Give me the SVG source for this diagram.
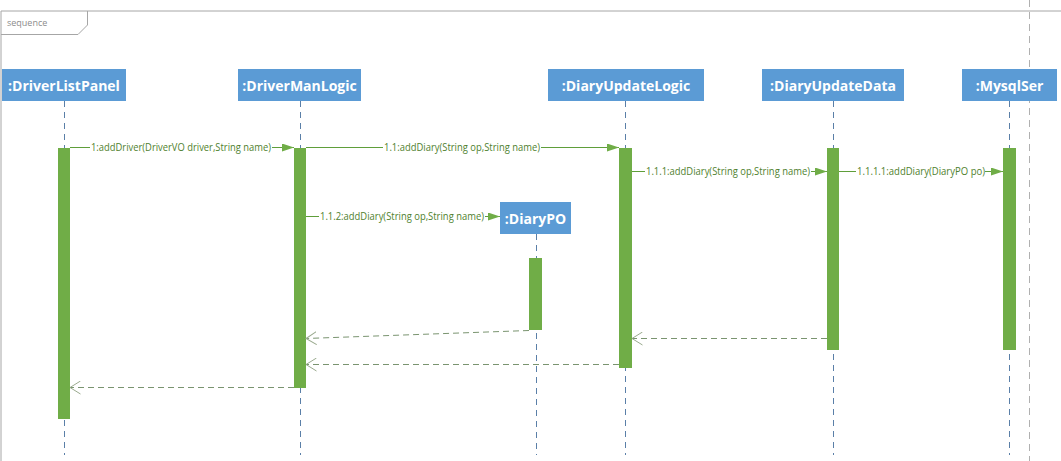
<svg xmlns="http://www.w3.org/2000/svg" width="1061" height="461" viewBox="0 0 1061 461">
<style>
.frame{fill:none;stroke:#a6a6a6;stroke-width:1}
.tabtxt{font-family:"Open Sans","Liberation Sans",sans-serif;font-size:9px;fill:#8c8c8c}
.box{fill:#5b9bd5}
.name{font-family:"Open Sans","Liberation Sans",sans-serif;font-size:14px;font-weight:bold;fill:#ffffff;text-anchor:middle}
.life{stroke:#5a7fa8;stroke-width:1;stroke-dasharray:6,5;fill:none}
.act{fill:#70ad47}
.msg{stroke:#5f9e3a;stroke-width:1;fill:none}
.ret{stroke:#7a9470;stroke-width:1;stroke-dasharray:6,4;fill:none}
.lbl{font-family:"Open Sans","Liberation Sans",sans-serif;font-size:10px;fill:#4f7f2e}
</style>
<defs>
<marker id="fill" viewBox="0 0 12 8" refX="12" refY="4" markerWidth="12" markerHeight="8" markerUnits="userSpaceOnUse" orient="auto">
<path d="M0,0 L12,4 L0,8 Z" fill="#70ad47"/>
</marker>
<marker id="open" viewBox="0 0 11 14" refX="10.5" refY="7" markerWidth="11" markerHeight="14" markerUnits="userSpaceOnUse" orient="auto">
<path d="M0,0.5 L10.5,7 L0,13.5" fill="none" stroke="#9aaa8e" stroke-width="1"/>
</marker>
</defs>
<g id="frame">
<path class="frame" d="M1,461 V11 H1061"/>
<path class="frame" d="M1,34.5 H78 L87.5,25 V11"/>
<text class="tabtxt" x="7" y="26">sequence</text>
<line x1="1029.5" y1="0" x2="1029.5" y2="461" stroke="#b0b0b0" stroke-dasharray="7,5"/>
</g>
<g id="DriverListPanel">
<line class="life" x1="64.5" y1="101" x2="64.5" y2="455"/>
<rect class="box" x="2" y="69" width="124" height="32"/>
<text class="name" x="64" y="90.5">:DriverListPanel</text>
<rect class="act" x="58" y="148" width="12" height="271"/>
</g>
<g id="DriverManLogic">
<line class="life" x1="300.5" y1="101" x2="300.5" y2="455"/>
<rect class="box" x="238" y="69" width="123" height="32"/>
<text class="name" x="299.5" y="90.5">:DriverManLogic</text>
<rect class="act" x="294" y="148" width="12" height="240"/>
</g>
<g id="DiaryUpdateLogic">
<line class="life" x1="625.5" y1="101" x2="625.5" y2="455"/>
<rect class="box" x="548" y="69" width="156" height="32"/>
<text class="name" x="626" y="90.5">:DiaryUpdateLogic</text>
<rect class="act" x="619" y="148" width="13" height="220"/>
</g>
<g id="DiaryUpdateData">
<line class="life" x1="833.5" y1="101" x2="833.5" y2="455"/>
<rect class="box" x="762" y="69" width="142" height="32"/>
<text class="name" x="833" y="90.5">:DiaryUpdateData</text>
<rect class="act" x="827" y="148" width="12" height="202"/>
</g>
<g id="MysqlSer">
<line class="life" x1="1009.5" y1="101" x2="1009.5" y2="455"/>
<rect class="box" x="962" y="69" width="95" height="32"/>
<text class="name" x="1009.5" y="90.5">:MysqlSer</text>
<rect class="act" x="1003" y="148" width="13" height="202"/>
</g>
<g id="DiaryPO">
<line class="life" x1="536.5" y1="234" x2="536.5" y2="455"/>
<rect class="box" x="500" y="202" width="71" height="32"/>
<text class="name" x="535.5" y="223.5">:DiaryPO</text>
<rect class="act" x="529" y="258" width="13" height="72"/>
</g>
<g id="connectors">
<line class="msg" x1="70" y1="147.5" x2="90" y2="147.5"/>
<line class="msg" x1="272" y1="147.5" x2="294" y2="147.5" marker-end="url(#fill)"/>
<text class="lbl" x="91" y="151" textLength="180" lengthAdjust="spacingAndGlyphs">1:addDriver(DriverVO driver,String name)</text>
<line class="msg" x1="306" y1="147.5" x2="383" y2="147.5"/>
<line class="msg" x1="541" y1="147.5" x2="619" y2="147.5" marker-end="url(#fill)"/>
<text class="lbl" x="384" y="151" textLength="156" lengthAdjust="spacingAndGlyphs">1.1:addDiary(String op,String name)</text>
<line class="msg" x1="632" y1="171.5" x2="645" y2="171.5"/>
<line class="msg" x1="811" y1="171.5" x2="827" y2="171.5" marker-end="url(#fill)"/>
<text class="lbl" x="646" y="175" textLength="164" lengthAdjust="spacingAndGlyphs">1.1.1:addDiary(String op,String name)</text>
<line class="msg" x1="839" y1="171.5" x2="856" y2="171.5"/>
<line class="msg" x1="985" y1="171.5" x2="1003" y2="171.5" marker-end="url(#fill)"/>
<text class="lbl" x="857" y="175" textLength="128" lengthAdjust="spacingAndGlyphs">1.1.1.1:addDiary(DiaryPO po)</text>
<line class="msg" x1="306" y1="216.5" x2="319" y2="216.5"/>
<line class="msg" x1="485" y1="216.5" x2="500" y2="216.5" marker-end="url(#fill)"/>
<text class="lbl" x="320" y="220" textLength="164" lengthAdjust="spacingAndGlyphs">1.1.2:addDiary(String op,String name)</text>
<line class="ret" x1="529" y1="330.5" x2="306" y2="338.5" marker-end="url(#open)"/>
<line class="ret" x1="827" y1="338.5" x2="632" y2="338.5" marker-end="url(#open)"/>
<line class="ret" x1="619" y1="364.5" x2="306" y2="364.5" marker-end="url(#open)"/>
<line class="ret" x1="294" y1="387.5" x2="70" y2="387.5" marker-end="url(#open)"/>
</g>
</svg>
